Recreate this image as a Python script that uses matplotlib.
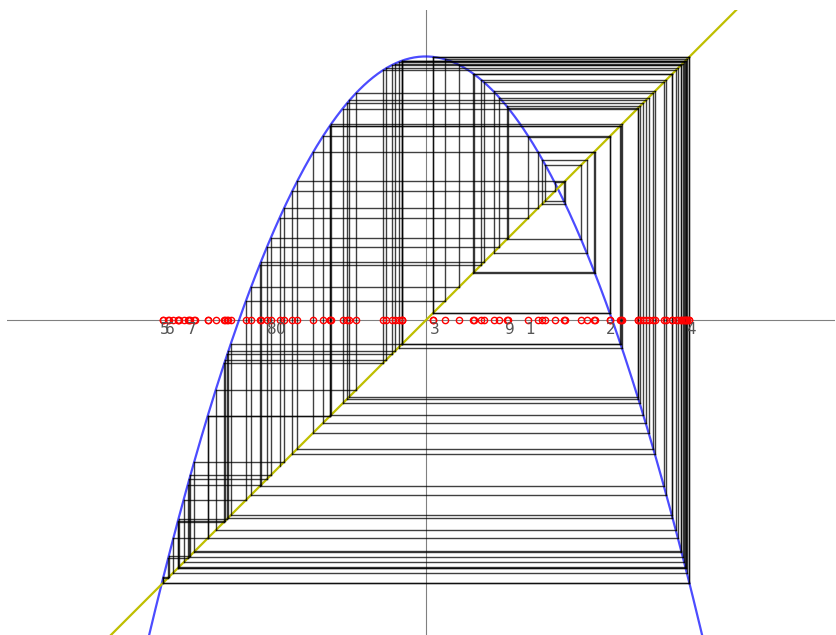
import numpy as np
import matplotlib
matplotlib.use("Agg")
import matplotlib.pyplot as plt

# map parameter and orbit settings
c_param = 2.0
x_start = -1.105
n_iter = 100
label_count = 10

def f(x):
    return c_param - x * x

orbit = [x_start]
for _ in range(n_iter):
    orbit.append(f(orbit[-1]))
orbit = np.array(orbit)

fig = plt.figure(figsize=(8.37, 6.35), dpi=100)
ax = fig.add_axes([7 / 837, 0, 828 / 837, 625 / 635])
ax.set_xlim(-3.17, 3.10)
ax.set_ylim(-2.383, 2.352)
ax.axis("off")

ax.axhline(0, color="gray", lw=0.8, zorder=1)
ax.axvline(0, color="gray", lw=0.8, zorder=1)

xs = np.linspace(-2.3, 2.3, 400)
ax.plot(xs, f(xs), color="b", alpha=0.7, lw=1.6, zorder=2)
ax.plot([-3.5, 3.5], [-3.5, 3.5], color="y", lw=1.6, zorder=2)

for a, b in zip(orbit[:-1], orbit[1:]):
    ax.plot([a, a], [a, b], color="k", lw=1, alpha=0.75, zorder=3)
    ax.plot([a, b], [b, b], color="k", lw=1, alpha=0.75, zorder=3)

ax.plot(orbit, np.zeros_like(orbit), "o", ms=4.5, mfc="none", mec="red", mew=1, zorder=4)

for i in range(label_count):
    ax.text(orbit[i] + 0.01, -0.012, str(i), ha="center", va="top", fontsize=11,
            color="#555555", zorder=5)

fig.savefig("out.png", dpi=100)
